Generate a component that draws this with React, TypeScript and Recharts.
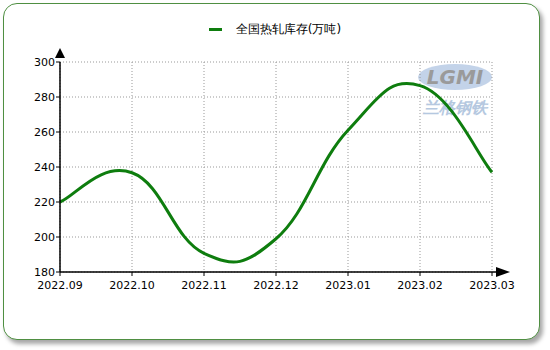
import { CartesianGrid, Line, LineChart, ReferenceDot, XAxis, YAxis } from 'recharts'

const months = ['2022.09', '2022.10', '2022.11', '2022.12', '2023.01', '2023.02', '2023.03']
const inventory = [220, 236.7, 190.7, 199, 261, 286.5, 237]
const yTicks = [180, 200, 220, 240, 260, 280, 300]
const seriesName = '全国热轧库存(万吨)'

const data = months.map((m, i) => ({ month: m, value: inventory[i] }))

const GREEN = '#0e7d0e'
const FONT = '"DejaVu Sans", Verdana, sans-serif'

// cardinal spline, same style as the old MS chart control (ends use the point itself)
function cardinal(tension: number) {
  return (context: any) => {
    let pts: [number, number][] = []
    return {
      areaStart() {},
      areaEnd() {},
      lineStart() {
        pts = []
      },
      point(x: number, y: number) {
        pts.push([+x, +y])
      },
      lineEnd() {
        if (!pts.length) return
        context.moveTo(pts[0][0], pts[0][1])
        const k = tension / 3
        for (let i = 0; i < pts.length - 1; i++) {
          const p0 = pts[Math.max(0, i - 1)]
          const p1 = pts[i]
          const p2 = pts[i + 1]
          const p3 = pts[Math.min(pts.length - 1, i + 2)]
          context.bezierCurveTo(
            p1[0] + k * (p2[0] - p0[0]),
            p1[1] + k * (p2[1] - p0[1]),
            p2[0] - k * (p3[0] - p1[0]),
            p2[1] - k * (p3[1] - p1[1]),
            p2[0],
            p2[1],
          )
        }
      },
    }
  }
}

const UpArrow = (props: any) => {
  const { cx, cy } = props
  if (cx == null || cy == null) return <g />
  return <path d={`M${cx - 5},${cy - 4} L${cx + 5},${cy - 4} L${cx},${cy - 14} Z`} fill="#000" />
}

const RightArrow = (props: any) => {
  const { cx, cy } = props
  if (cx == null || cy == null) return <g />
  return (
    <g>
      <line x1={cx} y1={cy} x2={cx + 5} y2={cy} stroke="#000" strokeWidth={1.5} />
      <path d={`M${cx + 4},${cy - 5} L${cx + 4},${cy + 5} L${cx + 18},${cy} Z`} fill="#000" />
    </g>
  )
}

function LegendBox() {
  return (
    <div
      style={{
        position: 'absolute',
        left: 0,
        top: 21,
        width: 550,
        display: 'flex',
        justifyContent: 'center',
        alignItems: 'center',
        fontSize: 12,
        fontFamily: FONT,
        color: '#000',
      }}
    >
      <span style={{ display: 'inline-block', width: 13, height: 3, background: GREEN, marginRight: 14 }} />
      <span>{seriesName}</span>
    </div>
  )
}

function Watermark() {
  return (
    <svg width={90} height={60} style={{ position: 'absolute', left: 412, top: 60 }}>
      <ellipse cx={43} cy={17} rx={37} ry={13} fill="#a9c1df" opacity={0.7} />
      <text x={43} y={24} textAnchor="middle" fontSize={20} fontWeight="bold" fill="#9a9a9a" fontFamily={FONT} fontStyle="italic">
        LGMI
      </text>
      <text x={43} y={53} textAnchor="middle" fontSize={16} fill="#b5c8e0" fontFamily={FONT} fontStyle="italic" fontWeight="bold">
        兰格钢铁
      </text>
    </svg>
  )
}

export default function App() {
  return (
    <div style={{ position: 'relative', width: 550, height: 350, background: '#fff' }}>
      <style>{'body{margin:0}'}</style>
      <div
        style={{
          position: 'absolute',
          left: 3,
          top: 3,
          width: 535,
          height: 335,
          border: '1.5px solid #4f8f42',
          borderRadius: 14,
          boxShadow: '3px 4px 4px rgba(0,0,0,0.35)',
          background: '#fff',
        }}
      />
      <Watermark />
      <LegendBox />
      <div style={{ position: 'absolute', left: 0, top: 0 }}>
        <LineChart width={550} height={350} data={data} margin={{ top: 62, right: 58, left: 20, bottom: 48 }}>
          <CartesianGrid stroke="#999" strokeDasharray="1 2" />
          <XAxis
            dataKey="month"
            tick={{ fontSize: 11, fill: '#000', fontFamily: FONT }}
            tickLine={{ stroke: '#000' }}
            tickSize={4}
            tickMargin={5}
            axisLine={{ stroke: '#000', strokeWidth: 1.5 }}
            height={30}
            interval={0}
            padding={{ left: 0, right: 0 }}
          />
          <YAxis
            domain={[180, 300]}
            ticks={yTicks}
            tick={{ fontSize: 11, fill: '#000', fontFamily: FONT }}
            tickLine={{ stroke: '#000' }}
            tickSize={4}
            tickMargin={1}
            axisLine={{ stroke: '#000', strokeWidth: 1.5 }}
            width={40}
            interval={0}
          />
          <Line
            dataKey="value"
            name={seriesName}
            type={cardinal(0.65) as any}
            stroke={GREEN}
            strokeWidth={3}
            dot={false}
            activeDot={false}
            isAnimationActive={false}
          />
          <ReferenceDot x={months[0]} y={yTicks[yTicks.length - 1]} ifOverflow="visible" shape={<UpArrow />} />
          <ReferenceDot x={months[months.length - 1]} y={yTicks[0]} ifOverflow="visible" shape={<RightArrow />} />
        </LineChart>
      </div>
    </div>
  )
}
